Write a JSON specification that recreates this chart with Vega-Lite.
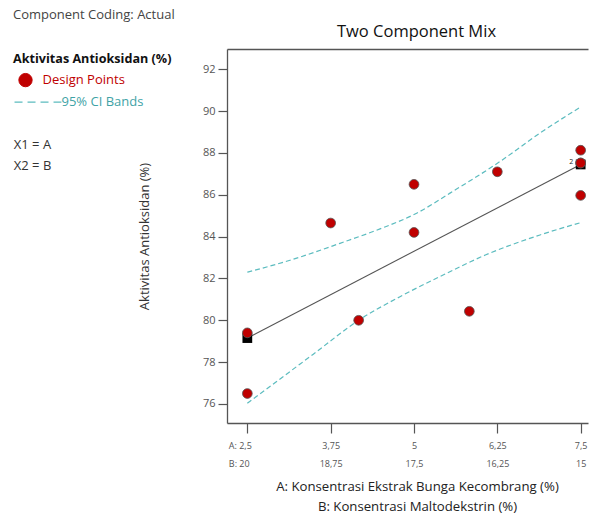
{
  "$schema": "https://vega.github.io/schema/vega-lite/v6.json",
  "width": 361,
  "height": 374,
  "autosize": {"type": "none"},
  "padding": {"left": 227, "top": 49, "right": 1, "bottom": 92},
  "background": "white",
  "config": {
    "font": "Open Sans",
    "view": {"stroke": null},
    "axis": {"domainColor": "#555", "tickColor": "#555", "labelColor": "#555", "titleColor": "#222", "titleFontWeight": "normal", "grid": false, "domainWidth": 1.3, "tickWidth": 1.2}
  },
  "title": {"text": "Component Coding: Actual", "anchor": "start", "frame": "group", "dx": -214, "offset": 1, "fontSize": 13, "fontWeight": "normal", "color": "#444"},
  "datasets": {
    "points": [
      {"A": 2.5, "y": 79.4, "series": "Design Points"},
      {"A": 2.5, "y": 76.5, "series": "Design Points"},
      {"A": 3.75, "y": 84.65, "series": "Design Points"},
      {"A": 4.17, "y": 80.0, "series": "Design Points"},
      {"A": 5.0, "y": 86.5, "series": "Design Points"},
      {"A": 5.0, "y": 84.2, "series": "Design Points"},
      {"A": 5.83, "y": 80.43, "series": "Design Points"},
      {"A": 6.25, "y": 87.1, "series": "Design Points"},
      {"A": 7.5, "y": 88.13, "series": "Design Points"},
      {"A": 7.5, "y": 87.52, "series": "Design Points"},
      {"A": 7.5, "y": 87.52, "series": "Design Points"},
      {"A": 7.5, "y": 85.97, "series": "Design Points"}
    ],
    "fit": [
      {"A": 2.5, "y": 79.15},
      {"A": 7.5, "y": 87.45}
    ],
    "replicates": [
      {"A": 7.5, "y": 87.45, "n": "2"}
    ],
    "bands": [
      {"A": 2.5, "y": 82.3, "band": "upper", "series": "95% CI Bands"},
      {"A": 3.14, "y": 82.87, "band": "upper", "series": "95% CI Bands"},
      {"A": 3.89, "y": 83.68, "band": "upper", "series": "95% CI Bands"},
      {"A": 4.49, "y": 84.37, "band": "upper", "series": "95% CI Bands"},
      {"A": 5.04, "y": 85.12, "band": "upper", "series": "95% CI Bands"},
      {"A": 5.54, "y": 86.08, "band": "upper", "series": "95% CI Bands"},
      {"A": 6.29, "y": 87.59, "band": "upper", "series": "95% CI Bands"},
      {"A": 6.89, "y": 88.95, "band": "upper", "series": "95% CI Bands"},
      {"A": 7.5, "y": 90.2, "band": "upper", "series": "95% CI Bands"},
      {"A": 2.5, "y": 76.03, "band": "lower", "series": "95% CI Bands"},
      {"A": 3.14, "y": 77.55, "band": "lower", "series": "95% CI Bands"},
      {"A": 3.49, "y": 78.38, "band": "lower", "series": "95% CI Bands"},
      {"A": 4.17, "y": 80.0, "band": "lower", "series": "95% CI Bands"},
      {"A": 4.79, "y": 81.13, "band": "lower", "series": "95% CI Bands"},
      {"A": 5.39, "y": 82.09, "band": "lower", "series": "95% CI Bands"},
      {"A": 6.07, "y": 83.12, "band": "lower", "series": "95% CI Bands"},
      {"A": 6.89, "y": 84.08, "band": "lower", "series": "95% CI Bands"},
      {"A": 7.5, "y": 84.67, "band": "lower", "series": "95% CI Bands"}
    ]
  },
  "encoding": {
    "y": {
      "field": "y", "type": "quantitative",
      "scale": {"domain": [75.09, 92.97], "nice": false, "zero": false},
      "axis": {
        "title": "Aktivitas Antioksidan (%)", "titleFontSize": 13, "titlePadding": 51, "titleColor": "#333",
        "values": [76, 78, 80, 82, 84, 86, 88, 90, 92],
        "labelFontSize": 11, "tickSize": 9, "labelPadding": 3, "labelFlush": false
      }
    }
  },
  "resolve": {"axis": {"x": "independent"}},
  "layer": [
    {
      "data": {"name": "bands"},
      "mark": {"type": "line", "strokeDash": [5, 3], "strokeWidth": 1.2, "interpolate": "monotone"},
      "encoding": {
        "x": {
          "field": "A", "type": "quantitative",
          "scale": {"domain": [2.195, 7.61], "nice": false, "zero": false},
          "axis": {
            "orient": "bottom",
            "values": [2.5, 3.75, 5, 6.25, 7.5],
            "labelExpr": "datum.value == 2.5 ? ['A: 2,5', 'B: 20'] : datum.value == 3.75 ? ['3,75', '18,75'] : datum.value == 5 ? ['5', '17,5'] : datum.value == 6.25 ? ['6,25', '16,25'] : ['7,5', '15']",
            "labelFontSize": 9, "labelLineHeight": 18.5, "labelPadding": 8, "tickSize": 10,
            "labelFlush": false, "labelOverlap": false,
            "labelAlign": {"condition": {"test": "datum.value == 2.5", "value": "left"}, "value": "center"},
            "labelOffset": {"condition": {"test": "datum.value == 2.5", "value": -19}, "value": 0},
            "title": ["A: Konsentrasi Ekstrak Bunga Kecombrang (%)", "B: Konsentrasi Maltodekstrin (%)"],
            "titleFontSize": 13.2, "titleLineHeight": 20, "titlePadding": 12, "titleX": 190
          }
        },
        "detail": {"field": "band"},
        "color": {
          "field": "series", "type": "nominal",
          "scale": {"domain": ["Design Points", "95% CI Bands", " ", "X1 = A", "X2 = B"], "range": ["#c00000", "#5cbcbf", "#ffffff", "#ffffff", "#ffffff"]},
          "legend": {
            "title": "Aktivitas Antioksidan (%)",
            "orient": "none", "legendX": -214, "legendY": 4,
            "titleFontSize": 12.6, "titleFontWeight": "bold", "titleColor": "#111", "titlePadding": 8,
            "labelFontSize": 13, "labelOffset": 10.5, "rowPadding": 6, "symbolSize": 177, "symbolOffset": 6,
            "encode": {
              "symbols": {"update": {
                "shape": {"signal": "datum.value === '95% CI Bands' ? 'M-1.65,0H5.4' : 'circle'"},
                "fill": {"signal": "datum.value === 'Design Points' ? '#c00000' : 'transparent'"},
                "stroke": {"signal": "datum.value === 'Design Points' ? '#333' : '#5cbcbf'"},
                "strokeWidth": {"signal": "datum.value === 'Design Points' ? 1 : 1.3"},
                "strokeDash": {"signal": "datum.value === '95% CI Bands' ? [8, 5] : []"},
                "opacity": {"signal": "datum.value === 'Design Points' || datum.value === '95% CI Bands' ? 1 : 0"}
              }},
              "labels": {"update": {
                "fill": {"signal": "datum.value === 'Design Points' ? '#c00000' : datum.value === '95% CI Bands' ? '#3fa3a6' : '#333'"},
                "fontSize": {"signal": "datum.value === ' ' ? 15 : 13"},
                "dx": {"signal": "datum.value === '95% CI Bands' ? 19 : datum.value === 'Design Points' ? 0 : -28.7"}
              }}
            }
          }
        }
      }
    },
    {
      "data": {"name": "fit"},
      "mark": {"type": "line", "color": "#555", "strokeWidth": 1.1},
      "encoding": {
        "x": {
          "field": "A", "type": "quantitative",
          "scale": {"domain": [2.195, 7.61], "nice": false, "zero": false},
          "axis": {"orient": "top", "ticks": false, "labels": false, "title": "Two Component Mix", "titleFontSize": 16.5, "titleColor": "#111", "titlePadding": 10, "titleX": 189}
        }
      }
    },
    {
      "data": {"name": "fit"},
      "mark": {"type": "square", "filled": true, "color": "#000", "size": 95, "opacity": 1},
      "encoding": {
        "x": {"field": "A", "type": "quantitative", "scale": {"domain": [2.195, 7.61], "nice": false, "zero": false}, "axis": null}
      }
    },
    {
      "data": {"name": "points"},
      "mark": {"type": "point", "shape": "circle", "filled": true, "size": 95, "stroke": "#555", "strokeWidth": 0.8, "opacity": 1},
      "encoding": {
        "x": {"field": "A", "type": "quantitative", "scale": {"domain": [2.195, 7.61], "nice": false, "zero": false}, "axis": null},
        "color": {"field": "series", "type": "nominal", "legend": null}
      }
    },
    {
      "data": {"name": "replicates"},
      "mark": {"type": "text", "fontSize": 7, "dx": -9.5, "dy": -2, "color": "#222", "baseline": "middle"},
      "encoding": {
        "x": {"field": "A", "type": "quantitative", "scale": {"domain": [2.195, 7.61], "nice": false, "zero": false}, "axis": null},
        "text": {"field": "n"}
      }
    }
  ]
}
